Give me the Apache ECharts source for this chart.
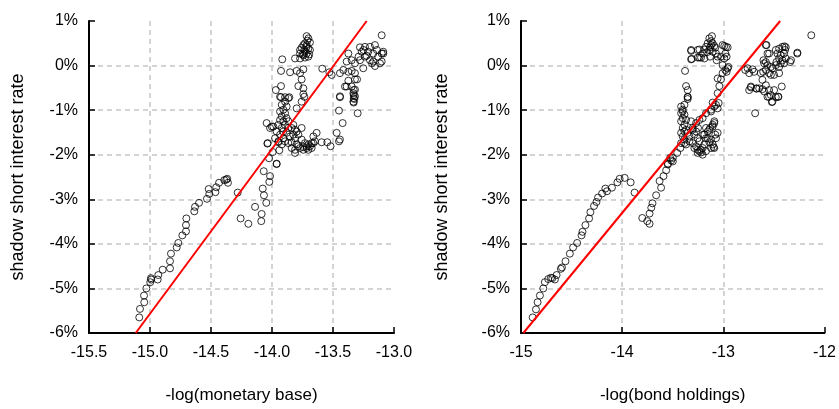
<!DOCTYPE html>
<html>
<head>
<meta charset="utf-8">
<script src="https://cdn.jsdelivr.net/npm/echarts@6/dist/echarts.min.js"></script>
<style>
  html, body { margin: 0; padding: 0; background: #fff; }
  #chart { width: 839px; height: 409px; }
</style>
</head>
<body>
<div id="chart"></div>
<script>
// Shadow short rate (%) against -log(monetary base)
const baseTrail = [
  [-15.088,-5.65],[-15.082,-5.46],[-15.047,-5.31],[-15.049,-5.16],[-15.030,-5.00],[-14.998,-4.86],
  [-14.992,-4.77],[-14.990,-4.80],[-14.937,-4.80],[-14.932,-4.70],[-14.896,-4.58],[-14.836,-4.55],
  [-14.836,-4.39],[-14.828,-4.22],[-14.781,-4.08],[-14.768,-3.98],[-14.735,-3.81],[-14.705,-3.72],
  [-14.705,-3.58],[-14.702,-3.43],[-14.637,-3.27],[-14.631,-3.17],[-14.598,-3.08],[-14.533,-2.99],
  [-14.514,-2.88],[-14.519,-2.77],[-14.464,-2.84],[-14.457,-2.73],[-14.434,-2.63],[-14.391,-2.57],
  [-14.367,-2.54],[-14.361,-2.63],[-14.375,-2.56]
];
const baseMid = [
  [-14.281,-2.85],[-14.257,-3.43],[-14.194,-3.55],[-14.139,-3.17],[-14.088,-3.49],[-14.085,-3.33],
  [-14.047,-3.08],[-14.066,-2.91],[-14.076,-2.76],[-14.022,-2.61],[-14.016,-2.48],[-14.068,-2.37],
  [-14.024,-2.08],[-14.038,-1.75],[-13.962,-2.20],[-13.940,-1.90],[-13.994,-1.94]
];
const baseDense = [
  [-13.934,-0.70],[-13.866,-0.73],[-13.893,-0.81],[-13.920,-0.88],[-13.880,-0.92],[-13.907,-0.99],
  [-13.934,-1.03],[-13.893,-1.07],[-13.920,-1.14],[-13.880,-1.18],[-13.934,-1.22],[-13.907,-1.25],
  [-13.866,-1.25],[-13.948,-1.33],[-13.893,-1.33],[-13.920,-1.40],[-13.866,-1.40],[-13.962,-1.48],
  [-13.907,-1.48],[-13.880,-1.51],[-13.934,-1.55],[-13.975,-1.63],[-13.907,-1.63],[-13.948,-1.70],
  [-13.893,-1.70],[-13.920,-1.77],[-13.866,-1.74],[-13.852,-1.59],[-13.839,-1.40],[-13.825,-1.33],
  [-13.811,-1.44],[-13.798,-1.48],[-13.825,-1.55],[-13.811,-1.63],[-13.784,-1.55],[-13.757,-1.66],
  [-13.730,-1.74],[-13.702,-1.77],[-13.675,-1.74],[-13.648,-1.70],[-13.634,-1.51],[-13.661,-1.59],
  [-13.689,-1.81],[-13.716,-1.85],[-13.743,-1.89],[-13.770,-1.85],[-13.811,-1.96],[-13.839,-1.85],
  [-13.798,-1.77],[-13.757,-1.40],[-13.735,-0.70],[-13.757,-0.81],[-13.798,-0.96],[-13.989,-1.37],
  [-14.016,-1.40],[-14.044,-1.29],[-14.035,-1.74],[-13.962,-2.21],[-14.002,-1.37],
  [-13.948,-1.72],[-13.839,-1.72],[-13.811,-1.89],[-13.784,-1.81],[-13.743,-1.83],[-13.716,-1.81],
  [-13.702,-1.89],[-13.675,-1.85],[-13.661,-1.74],[-13.593,-1.72],[-13.547,-1.72],[-13.520,-1.81],
  [-13.451,-1.70]
];
const baseUpper = [
  [-13.716,0.66],[-13.702,0.61],[-13.743,0.46],[-13.730,0.50],[-13.716,0.42],[-13.702,0.38],
  [-13.770,0.35],[-13.730,0.31],[-13.716,0.27],[-13.770,0.27],[-13.743,0.23],[-13.702,0.20],
  [-13.730,0.18],[-13.716,0.46],[-13.689,0.35],[-13.735,0.35],[-13.757,0.40],[-13.689,0.52],
  [-13.710,0.56],[-13.750,0.25],[-13.695,0.25],
  [-13.811,0.16],[-13.916,0.14],[-13.770,0.16],[-13.926,-0.12],[-13.852,-0.15],[-13.798,-0.12],
  [-13.770,-0.17],[-13.743,-0.085],[-13.784,-0.46],[-13.757,-0.31],[-13.743,-0.51],[-13.926,-0.46],
  [-13.969,-0.55],[-13.743,-0.64],[-13.926,-0.71],[-13.893,-0.71],[-13.858,-0.71],[-13.588,-0.07],
  [-13.511,-0.21],[-13.530,-0.15]
];
const baseRight = [
  [-13.101,0.68],[-13.156,0.46],[-13.197,0.42],[-13.238,0.42],[-13.279,0.41],[-13.265,0.31],
  [-13.211,0.31],[-13.170,0.27],[-13.101,0.27],[-13.088,0.31],[-13.238,0.20],[-13.279,0.12],
  [-13.197,0.12],[-13.170,0.09],[-13.101,0.09],[-13.115,0.05],[-13.347,0.12],[-13.374,0.27],
  [-13.388,0.09],[-13.320,0.05],[-13.252,-0.06],[-13.156,-0.01],[-13.415,-0.10],[-13.374,-0.14],
  [-13.347,-0.12],[-13.443,-0.17],[-13.320,-0.17],[-13.374,-0.34],[-13.388,-0.47],[-13.320,-0.31],
  [-13.347,-0.47],[-13.320,-0.54],[-13.333,-0.62],[-13.320,-0.69],[-13.325,-0.75],[-13.443,-0.69],
  [-13.402,-0.47],[-13.303,-0.31],[-13.330,-0.55],[-13.330,-0.66],[-13.330,-0.73],[-13.330,-0.83],
  [-13.451,-1.01],[-13.298,-1.07],[-13.421,-1.29],[-13.470,-1.51],[-13.443,-1.66],[-13.443,-0.71],
  [-13.333,-0.81],[-13.088,0.27],[-13.130,0.20],[-13.225,0.22],[-13.290,0.20],[-13.250,0.35],
  [-13.140,0.35],[-13.180,0.05]
];
const baseFit = [[-15.117,-6],[-13.224,1]];

// Shadow short rate (%) against -log(bond holdings)
const bondTrail = [
  [-14.885,-5.65],[-14.852,-5.47],[-14.836,-5.31],[-14.813,-5.16],[-14.780,-5.00],[-14.764,-4.86],
  [-14.731,-4.79],[-14.704,-4.76],[-14.690,-4.77],[-14.665,-4.80],[-14.648,-4.70],[-14.606,-4.56],
  [-14.595,-4.53],[-14.560,-4.39],[-14.517,-4.22],[-14.485,-4.08],[-14.445,-3.98],[-14.402,-3.81],
  [-14.392,-3.73],[-14.363,-3.58],[-14.327,-3.43],[-14.314,-3.29],[-14.278,-3.15],[-14.254,-3.06],
  [-14.238,-2.96],[-14.198,-2.87],[-14.166,-2.76],[-14.150,-2.82],[-14.101,-2.74],[-14.047,-2.62],
  [-14.025,-2.54],[-13.975,-2.52],[-13.916,-2.62],[-13.877,-2.85],[-13.801,-3.42],[-13.752,-3.49],
  [-13.729,-3.55],[-13.729,-3.32],[-13.712,-3.19],[-13.700,-3.09],[-13.664,-2.91],[-13.615,-2.74],
  [-13.630,-2.59],[-13.591,-2.48],[-13.565,-2.35],[-13.548,-2.20],[-13.515,-2.13],[-13.548,-2.22],
  [-13.499,-2.07],[-13.456,-1.96],[-13.424,-1.85],[-13.384,-1.74],[-13.253,-1.89],[-13.220,-1.95],
  [-13.187,-1.77],[-13.096,-1.83]
];
const bondMid = [
  [-13.352,-0.70],[-13.352,-0.75],[-13.417,-0.92],[-13.401,-0.99],[-13.417,-1.07],[-13.384,-1.10],
  [-13.401,-1.18],[-13.417,-1.25],[-13.384,-1.33],[-13.401,-1.40],[-13.368,-1.44],[-13.417,-1.51],
  [-13.401,-1.59],[-13.384,-1.66],[-13.417,-1.74],[-13.368,-1.77],[-13.335,-1.70],[-13.318,-1.25],
  [-13.302,-1.44],[-13.286,-1.55],[-13.269,-1.48],[-13.253,-1.63],[-13.236,-1.70],[-13.269,-1.81],
  [-13.220,-1.89],[-13.253,-1.96],[-13.204,-1.85],[-13.171,-1.63],[-13.154,-1.48],
  [-13.131,-1.40],[-13.105,-1.37],[-13.089,-1.29],[-13.079,-1.55],[-13.121,-1.66],[-13.105,-1.77],
  [-13.072,-1.63],[-13.056,-1.51],[-13.056,-0.96],[-13.072,-0.88],[-13.046,-0.84],[-13.121,-1.85],
  [-13.089,-1.85],[-13.525,-2.07],[-13.499,-2.15],[-13.384,-0.88],[-13.401,-1.03],[-13.368,-1.22],
  [-13.352,-1.51],[-13.335,-1.59],[-13.384,-1.48],[-13.302,-1.74],[-13.286,-1.85],[-13.236,-1.92],
  [-13.204,-2.00],[-13.171,-1.92],[-13.138,-1.72],[-13.200,-1.55],[-13.250,-1.40],
  [-13.105,-0.83],[-13.089,-0.92],[-13.121,-1.03],[-13.089,-1.25],[-13.105,-1.33],[-13.171,-1.40],
  [-13.138,-1.44],[-13.187,-1.55],[-13.154,-1.63],[-13.302,-1.40],[-13.269,-1.29],[-13.236,-1.22],
  [-13.204,-1.18],[-13.171,-1.07],[-13.121,-0.99]
];
const bondUpper = [
  [-13.112,0.66],[-13.138,0.61],[-13.121,0.55],[-13.154,0.50],[-13.105,0.50],[-13.171,0.42],
  [-13.131,0.41],[-13.089,0.44],[-13.187,0.36],[-13.138,0.35],[-13.105,0.31],[-13.236,0.36],
  [-13.318,0.33],[-13.204,0.27],[-13.072,0.27],[-12.990,0.44],[-12.957,0.41],[-12.980,0.27],
  [-12.967,0.20],[-13.253,0.18],[-13.220,0.18],[-13.318,0.14],[-13.187,0.16],[-13.131,0.20],
  [-13.066,0.12],[-13.023,0.20],[-13.007,0.01],[-13.120,0.46],[-13.160,0.30],[-13.080,0.40],
  [-13.318,0.35],[-13.312,0.15],[-13.253,0.35],[-13.236,0.18],[-13.056,0.20],[-12.990,0.16],
  [-13.007,0.46],[-12.973,0.42],
  [-13.378,-0.12],[-13.368,-0.46],[-13.352,-0.55],[-13.352,-0.71],
  [-13.056,-0.62],[-13.039,-0.46],[-13.023,-0.31],[-13.056,-0.29],[-13.007,-0.17],[-12.980,-0.10],
  [-12.957,-0.06],[-12.967,-0.14],[-12.950,-0.03]
];
const bondRight = [
  [-12.573,0.46],[-12.481,0.35],[-12.448,0.38],[-12.415,0.42],[-12.389,0.35],[-12.465,0.27],
  [-12.432,0.23],[-12.399,0.27],[-12.448,0.16],[-12.415,0.12],[-12.382,0.16],[-12.475,0.08],
  [-12.432,0.05],[-12.399,0.05],[-12.448,-0.03],[-12.481,0.01],[-12.547,0.27],[-12.579,0.08],
  [-12.596,0.05],[-12.563,0.01],[-12.530,-0.03],[-12.514,-0.06],[-12.606,-0.14],[-12.629,-0.17],
  [-12.579,-0.10],[-12.547,-0.17],[-12.530,-0.21],[-12.498,-0.21],[-12.448,-0.17],[-12.760,-0.06],
  [-12.783,-0.10],[-12.711,-0.085],[-12.695,-0.14],[-12.744,-0.17],[-12.613,-0.32],[-12.579,-0.44],
  [-12.547,-0.55],[-12.596,-0.58],[-12.645,-0.51],[-12.672,-0.51],[-12.727,-0.47],[-12.498,-0.55],
  [-12.422,-0.47],[-12.530,-0.66],[-12.481,-0.71],[-12.563,-0.70],[-12.744,-0.55],[-12.130,0.68],
  [-12.268,0.29],[-12.268,0.27],[-12.330,0.12],[-12.340,0.08],[-12.382,0.41],[-12.395,0.43],
  [-12.458,-0.70],[-12.520,-0.82],[-12.685,-1.07],[-12.727,-0.49],[-12.672,-0.52],[-12.613,-0.53],
  [-12.580,0.46],[-12.563,0.27],[-12.603,0.12],[-12.547,-0.70],[-12.514,-0.81],[-12.455,-0.70]
];
const bondFit = [[-14.977,-6],[-12.438,1]];

const baseLabel = '-log(monetary base)';
const bondLabel = '-log(bond holdings)';
const rateLabel = 'shadow short interest rate';

const baseScatter = [].concat(baseTrail, baseMid, baseDense, baseUpper, baseRight);
const bondScatter = [].concat(bondTrail, bondMid, bondUpper, bondRight);

const FONT = '"Liberation Sans", Arial, sans-serif';
const dash = { color: '#c6c6c6', width: 1.5, type: [5, 4] };

function xAxisFor(idx, name, min, max, step, digits) {
  return {
    gridIndex: idx, type: 'value', min: min, max: max, interval: step,
    name: name, nameLocation: 'middle', nameGap: 54,
    nameTextStyle: { fontFamily: FONT, fontSize: 17, color: '#000' },
    axisLine: { onZero: false, lineStyle: { color: '#000', width: 2 } },
    axisTick: { inside: true, length: 6, lineStyle: { color: '#000', width: 1.5 } },
    axisLabel: { margin: 12, fontFamily: FONT, fontSize: 16, color: '#000',
      formatter: v => v.toFixed(digits) },
    splitLine: { show: true, showMinLine: false, showMaxLine: false, lineStyle: dash }
  };
}
function yAxisFor(idx, gap) {
  return {
    gridIndex: idx, type: 'value', min: -6, max: 1, interval: 1,
    name: rateLabel, nameLocation: 'middle', nameGap: gap, nameRotate: 90,
    nameTextStyle: { fontFamily: FONT, fontSize: 18, color: '#000' },
    axisLine: { onZero: false, lineStyle: { color: '#000', width: 2 } },
    axisTick: { inside: true, length: 6, lineStyle: { color: '#000', width: 1.5 } },
    axisLabel: { margin: 11, fontFamily: FONT, fontSize: 16, color: '#000',
      formatter: v => v + '%' },
    splitLine: { show: true, showMinLine: false, showMaxLine: false, lineStyle: dash }
  };
}
function scatterFor(idx, data) {
  return {
    type: 'scatter', xAxisIndex: idx, yAxisIndex: idx, data: data,
    symbol: 'circle', symbolSize: 7,
    itemStyle: { color: 'rgba(0,0,0,0)', borderColor: '#000', borderWidth: 1 }
  };
}
function fitFor(idx, data) {
  return {
    type: 'line', xAxisIndex: idx, yAxisIndex: idx, data: data,
    symbol: 'none', lineStyle: { color: '#ff0000', width: 2 }, z: 3
  };
}

const chart = echarts.init(document.getElementById('chart'), null, { renderer: 'canvas' });
chart.setOption({
  animation: false,
  backgroundColor: '#fff',
  grid: [
    { left: 89, top: 21, width: 305, height: 313 },
    { left: 521, top: 21, width: 304, height: 313 }
  ],
  xAxis: [
    xAxisFor(0, baseLabel, -15.5, -13.0, 0.5, 1),
    xAxisFor(1, bondLabel, -15, -12, 1, 0)
  ],
  yAxis: [yAxisFor(0, 62), yAxisFor(1, 70)],
  series: [
    scatterFor(0, baseScatter), fitFor(0, baseFit),
    scatterFor(1, bondScatter), fitFor(1, bondFit)
  ]
});
</script>
</body>
</html>
